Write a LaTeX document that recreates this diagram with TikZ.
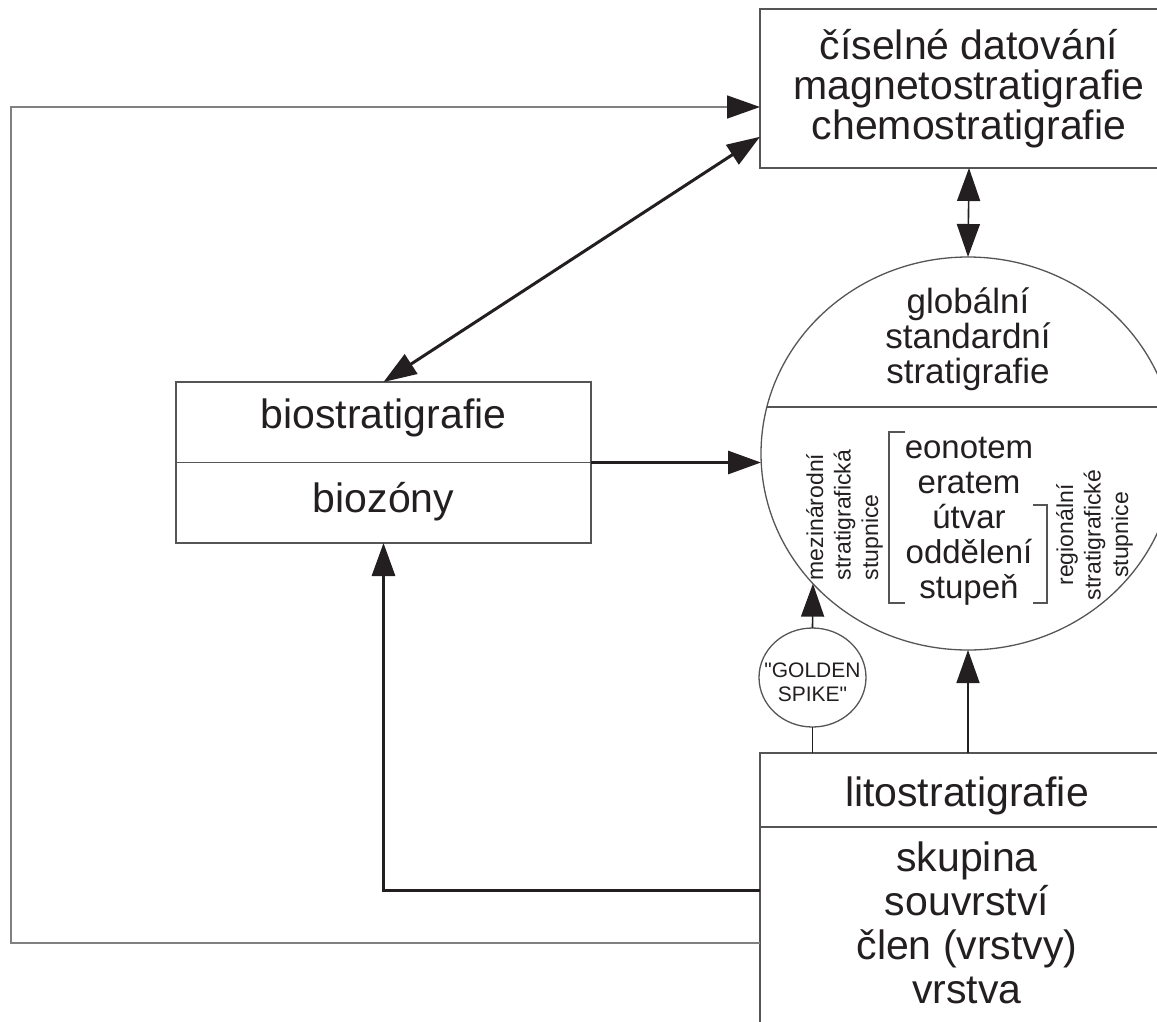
\documentclass[tikz,border=0pt]{standalone}
\usepackage{fontspec}
\setmainfont{Liberation Sans}
\newfontfamily\spikefont{Liberation Sans}
\usetikzlibrary{arrows.meta,shapes.geometric}
\definecolor{ink}{HTML}{231F20}
\definecolor{rule}{HTML}{555555}
\definecolor{faint}{HTML}{808080}

\begin{document}
\begin{tikzpicture}[x=1pt,y=-1pt,
  every node/.style={text=ink,inner sep=0pt,outer sep=0pt},
  box/.style={draw=rule,line width=1.4pt},
  ring/.style={ellipse,draw=rule,line width=1.3pt},
  bigfont/.style={font=\fontsize{41}{40}\selectfont},
  midfont/.style={font=\fontsize{35}{35}\selectfont},
  smallfont/.style={font=\fontsize{23}{27.5}\selectfont},
  tip/.style={-{Triangle[length=33pt,width=23pt,color=ink]}},
  tips/.style={{Triangle[length=33pt,width=23pt,color=ink]}-{Triangle[length=33pt,width=23pt,color=ink]}},
  heavy/.style={draw=ink,line width=3pt},
  light/.style={draw=ink,line width=1.6pt},
  loopline/.style={draw=faint,line width=1.6pt}]
\clip (0,0) rectangle (1157,1021);

\node[box,bigfont,align=center,minimum width=418pt,minimum height=159pt] (datovani) at (969,88.5)
  {číselné datování\\magnetostratigrafie\\chemostratigrafie};

\node[box,minimum width=415pt,minimum height=161pt] (bio) at (383.5,462.5) {};
\node[bigfont,anchor=base] (biotitle) at (383.5,428) {biostratigrafie};
\node[bigfont,anchor=base] (biozony) at (383.5,512) {biozóny};
\draw[rule,line width=1.4pt] (bio.west) -- (bio.east);

\node[ring,minimum width=414pt,minimum height=393pt] (glob) at (968,453.5) {};
\draw[rule,line width=1.3pt] (glob.167) -- (glob.13);
\node[midfont,align=center] (globtitle) at (968,339) {globální\\standardní\\stratigrafie};
\node[font=\fontsize{33}{35}\selectfont,align=center] (units) at (969,521.5)
  {eonotem\\eratem\\útvar\\oddělení\\stupeň};
\node[smallfont,rotate=90,align=left] (intl) at (844.5,515) {mezinárodní\\stratigrafická\\stupnice};
\node[smallfont,rotate=90,align=center] (regional) at (1094.5,535) {regionální\\stratigrafické\\stupnice};
\draw[rule,line width=1.4pt] (905,432) -- (889,432) -- (889,603) -- (905,603);
\draw[rule,line width=1.4pt] (1033,505) -- (1047,505) -- (1047,603) -- (1033,603);

\node[ring,minimum width=107pt,minimum height=99pt] (spike) at (812.5,677.5) {};
\node[font=\spikefont\fontsize{21}{24}\selectfont,align=center] (spiketext) at (812.5,682)
  {"GOLDEN\\SPIKE"};

\node[box,minimum width=414pt,minimum height=300pt] (lito) at (967,903) {};
\draw[rule,line width=1.4pt] (lito.west |- 0,827) -- (lito.east |- 0,827);
\node[bigfont,anchor=base] (litotitle) at (967,806) {litostratigrafie};
\node[font=\fontsize{41}{44}\selectfont,align=center] (litolist) at (967,922.5)
  {skupina\\souvrství\\člen (vrstvy)\\vrstva};

\coordinate (bend) at (11,107);

\draw[heavy,tips] (bio.north) -- (datovani.193);
\draw[light,tips] (datovani.south) -- (glob.north);
\draw[heavy,tip] (bio.east) -- (bio.east -| glob.west);
\draw[light] (spike.south) -- (spike.south |- lito.north);
\draw[light,tip] (spike.north) -- (glob.220);
\draw[light,tip] (glob.south |- lito.north) -- (glob.south);
\draw[heavy,tip] (lito.west |- 0,890) -| (bio.south);
\draw[loopline,tip] (lito.west |- 0,943) -| (bend) -- (datovani.west |- bend);
\end{tikzpicture}
\end{document}
